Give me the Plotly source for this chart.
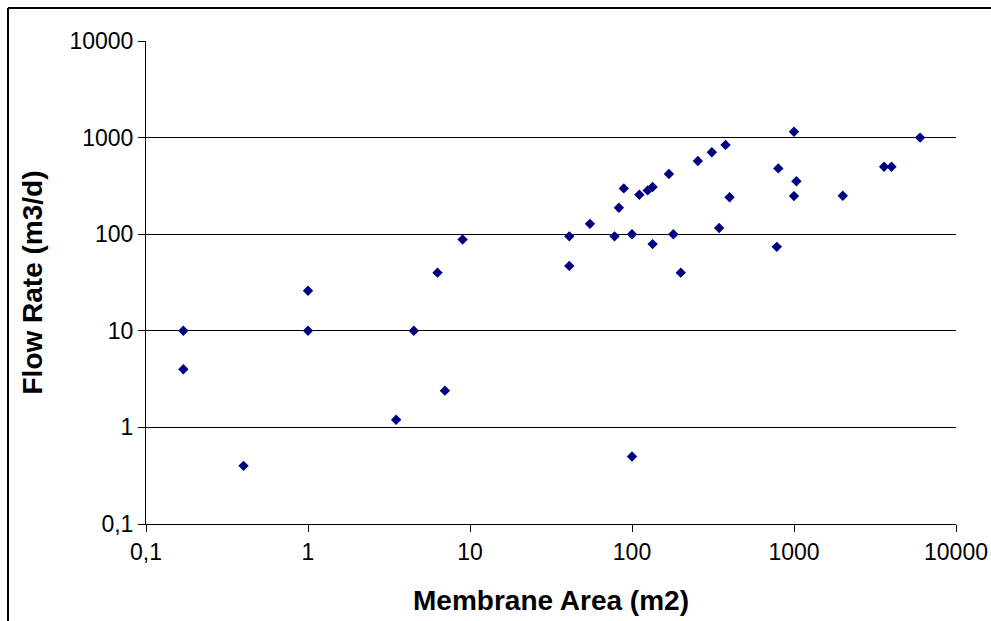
import plotly.graph_objects as go

membrane_area = [0.17, 0.17, 0.4, 1, 1, 3.5, 4.5, 6.3, 7, 9,
                 41, 41, 55, 78, 83, 89, 100, 100, 111, 125,
                 134, 134, 169, 180, 200, 255, 311, 378, 345, 400,
                 800, 783, 1000, 1035, 1000, 2000, 3600, 4000, 6000]
flow_rate = [10, 4, 0.4, 26, 10, 1.2, 10, 40, 2.4, 88,
             95, 47, 128, 95, 188, 298, 100, 0.5, 256, 284,
             308, 79, 420, 100, 40, 573, 705, 840, 116, 241,
             480, 74, 1150, 353, 248, 250, 500, 500, 1000]

tick_vals = [0.1, 1, 10, 100, 1000, 10000]
tick_text = ["0,1", "1", "10", "100", "1000", "10000"]

fig = go.Figure()
fig.add_trace(go.Scatter(
    x=membrane_area, y=flow_rate, mode="markers",
    marker=dict(symbol="diamond", size=8, color="#000080", line=dict(width=0)),
    showlegend=False))

font_family = "Liberation Sans, Arial, sans-serif"
axis_common = dict(
    type="log", range=[-1, 4], tickvals=tick_vals, ticktext=tick_text,
    showline=True, linecolor="black", linewidth=1,
    ticks="outside", ticklen=7, tickcolor="black", tickwidth=1,
    tickfont=dict(family=font_family, size=23, color="black"),
    zeroline=False,
)

fig.update_xaxes(**axis_common, showgrid=False,
                 title=dict(text="<b>Membrane Area (m2)</b>", standoff=26,
                            font=dict(family=font_family, size=28, color="black")))
fig.update_yaxes(**axis_common, showgrid=True, gridcolor="black", gridwidth=1,
                 title=dict(text="<b>Flow Rate (m3/d)</b>", standoff=18,
                            font=dict(family=font_family, size=28, color="black")))

W, H = 991, 621
L, R, T, B = 146, 35, 41, 97
pw, ph = W - L - R, H - T - B
# outer chart border (top and left edges visible, others run off the page)
fig.add_shape(type="line", xref="paper", yref="paper",
              x0=(8 - L) / pw, x1=(W + 20 - L) / pw,
              y0=(H - B - 8) / ph, y1=(H - B - 8) / ph,
              line=dict(color="black", width=2), layer="below")
fig.add_shape(type="line", xref="paper", yref="paper",
              x0=(8 - L) / pw, x1=(8 - L) / pw,
              y0=-(B + 20) / ph, y1=(H - B - 8) / ph,
              line=dict(color="black", width=2), layer="below")

fig.update_layout(
    width=W, height=H,
    margin=dict(l=L, r=R, t=T, b=B, autoexpand=False),
    plot_bgcolor="white", paper_bgcolor="white",
    font=dict(family=font_family, color="black"),
)

fig.write_html(
    "out.html",
    config={"displayModeBar": False},
    post_script="document.body.style.margin='0';document.body.style.overflow='hidden';",
)
